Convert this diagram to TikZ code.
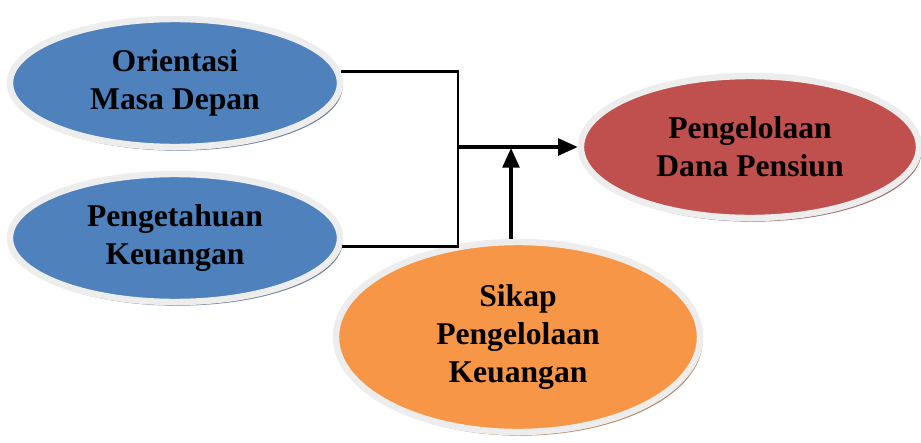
\documentclass[tikz,border=0pt]{standalone}
\usepackage{fontspec}
\setmainfont{Liberation Serif}
\usetikzlibrary{arrows.meta}
\usetikzlibrary{shapes.geometric}
\usetikzlibrary{shadows}
\usetikzlibrary{positioning}

\definecolor{ofblue}{HTML}{4F81BD}
\definecolor{ofred}{HTML}{C0504D}
\definecolor{oforange}{HTML}{F79646}
\definecolor{rim}{HTML}{EDEDED}

\begin{document}
\begin{tikzpicture}[
					x=0.025cm, y=-0.025cm,
					line width=1.8pt,
					flow/.style={draw=black, line width=2.2pt, -{Triangle[length=14pt,width=12pt]}},
					bubble/.style={ellipse, draw=rim, line width=4.6pt, align=center, inner sep=0pt,
						font=\bfseries\fontsize{22.5}{27}\selectfont},
					blueb/.style={bubble, fill=ofblue, minimum width=8.25cm, minimum height=3.2cm,
						drop shadow={shadow xshift=1.8pt, shadow yshift=-2.6pt, fill=ofblue!45!gray, opacity=1}},
					redb/.style={bubble, fill=ofred, minimum width=8.45cm, minimum height=3.55cm,
						drop shadow={shadow xshift=1.8pt, shadow yshift=-2.6pt, fill=ofred!45!gray, opacity=1}},
					orangeb/.style={bubble, fill=oforange, minimum width=9.1cm, minimum height=4.75cm,
						drop shadow={shadow xshift=1.8pt, shadow yshift=-2.6pt, fill=oforange!45!gray, opacity=1}},
				]
					\useasboundingbox (0,0) rectangle (921,442);
					\node (ori) [blueb] at (175,83) {Orientasi\\Masa Depan};
					\node (pen) [blueb] at (175,238) {Pengetahuan\\Keuangan};
					\node (dana) [redb] at (750,147) {Pengelolaan\\Dana Pensiun};
					\node (sik) [orangeb] at (518,337) {Sikap\\Pengelolaan\\Keuangan};
					
					\coordinate (jn) at (458,147);
					\coordinate (up) at (511,148);
					
					\draw (ori.4) -| (jn);
					\draw (pen.-3) -| (jn);
					\draw[flow] (jn) -- (dana.west);
					\draw[flow] (up |- sik.north) -- (up);
				\end{tikzpicture}
\end{document}
